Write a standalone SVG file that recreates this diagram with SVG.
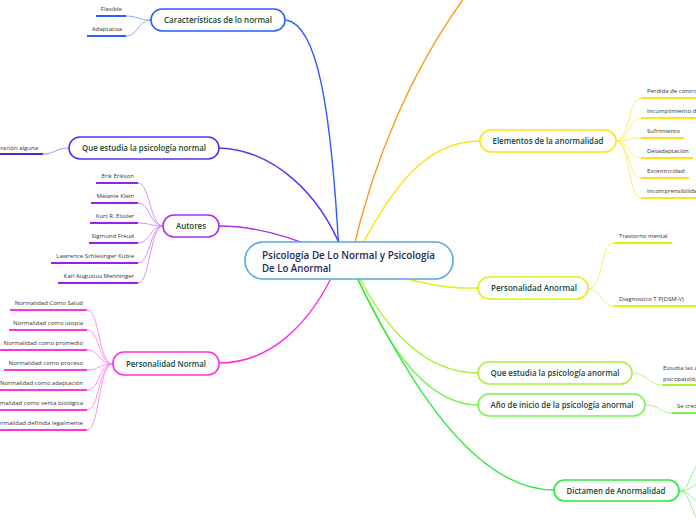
<svg xmlns="http://www.w3.org/2000/svg" width="696" height="520" viewBox="0 0 696 520">
<style>
.bg{fill:#ffffff}
.node{fill:#ffffff;stroke-width:1.6}
.nt{font-family:"Open Sans","Noto Sans",sans-serif;font-size:9.6px;font-weight:600;fill:#17463a;text-anchor:middle}
.ct{font-family:"Open Sans","Noto Sans",sans-serif;font-size:10.4px;font-weight:600;fill:#1b2b5c}
.lt{font-family:"Open Sans","Noto Sans",sans-serif;font-size:6px;fill:#333333}
.ltr{font-family:"Open Sans","Noto Sans",sans-serif;font-size:6px;fill:#333333;text-anchor:end}
.conn{fill:none;stroke-width:1.4}
.sub{fill:none;stroke-width:0.9}
.ul{fill:none;stroke-width:2}
</style>
<rect class="bg" x="0" y="0" width="696" height="520"/>
<g id="connectors">
  <path class="conn" stroke="#2a5cff" d="M 339 252 C 331 110, 318 25, 286 20"/>
  <path class="conn" stroke="#5533ee" d="M 342 250 C 320 195, 275 150, 219 148"/>
  <path class="conn" stroke="#a82ef0" d="M 325 252 C 290 236, 255 226, 219 226"/>
  <path class="conn" stroke="#ff2ee0" d="M 336 268 C 310 325, 270 363, 219 363"/>
  <path class="conn" stroke="#ff9a1a" d="M 352 255 C 372 165, 410 70, 470 -10"/>
  <path class="conn" stroke="#ffe21a" d="M 358 252 C 392 188, 425 141, 480 141"/>
  <path class="conn" stroke="#d8f21a" d="M 380 270 C 420 285, 450 289, 478 288"/>
  <path class="conn" stroke="#a8f03c" d="M 355 270 C 382 322, 420 373, 478 373"/>
  <path class="conn" stroke="#7cf050" d="M 354 270 C 380 330, 420 405, 478 405"/>
  <path class="conn" stroke="#2ee83a" d="M 353 270 C 400 365, 468 490, 554 490"/>
  <path class="sub" stroke="#7fa0ff" d="M 151 20 C 138 20, 138 16, 126 16"/>
  <path class="sub" stroke="#7fa0ff" d="M 151 20 C 138 20, 138 36, 126 36"/>
  <path class="sub" stroke="#9a88f5" d="M 69 148 C 55 148, 55 154, 43 154"/>
  <path class="sub" stroke="#cc88ff" d="M 163 226 C 150 226, 150 183, 138 183"/>
  <path class="sub" stroke="#cc88ff" d="M 163 226 C 150 226, 150 203, 138 203"/>
  <path class="sub" stroke="#cc88ff" d="M 163 226 C 150 226, 150 223, 138 223"/>
  <path class="sub" stroke="#cc88ff" d="M 163 226 C 150 226, 150 243, 138 243"/>
  <path class="sub" stroke="#cc88ff" d="M 163 226 C 150 226, 150 263, 138 263"/>
  <path class="sub" stroke="#cc88ff" d="M 163 226 C 150 226, 150 283, 138 283"/>
  <path class="sub" stroke="#ff88ee" d="M 113 364 C 98 364, 100 310, 87 310"/>
  <path class="sub" stroke="#ff88ee" d="M 113 364 C 98 364, 100 330, 87 330"/>
  <path class="sub" stroke="#ff88ee" d="M 113 364 C 98 364, 100 350, 87 350"/>
  <path class="sub" stroke="#ff88ee" d="M 113 364 C 98 364, 100 370, 87 370"/>
  <path class="sub" stroke="#ff88ee" d="M 113 364 C 98 364, 100 390, 87 390"/>
  <path class="sub" stroke="#ff88ee" d="M 113 364 C 98 364, 100 410, 87 410"/>
  <path class="sub" stroke="#ff88ee" d="M 113 364 C 98 364, 100 430, 87 430"/>
  <path class="sub" stroke="#ffe866" d="M 616 141 C 630 141, 628 98, 641 98"/>
  <path class="sub" stroke="#ffe866" d="M 616 141 C 630 141, 628 118, 641 118"/>
  <path class="sub" stroke="#ffe866" d="M 616 141 C 630 141, 628 138, 641 138"/>
  <path class="sub" stroke="#ffe866" d="M 616 141 C 630 141, 628 158, 641 158"/>
  <path class="sub" stroke="#ffe866" d="M 616 141 C 630 141, 628 178, 641 178"/>
  <path class="sub" stroke="#ffe866" d="M 616 141 C 630 141, 628 198, 641 198"/>
  <path class="sub" stroke="#e4f566" d="M 588 289 C 603 289, 600 243, 614 243"/>
  <path class="sub" stroke="#e4f566" d="M 588 289 C 603 289, 600 306, 614 306"/>
  <path class="sub" stroke="#e4f566" d="M 694 306 C 698 306, 700 300, 702 296"/>
  <path class="sub" stroke="#e4f566" d="M 694 306 C 698 306, 700 312, 702 316"/>
  <path class="sub" stroke="#b8f070" d="M 632 373 C 648 373, 648 385, 662 385"/>
  <path class="sub" stroke="#98f080" d="M 645 405 C 660 405, 660 413, 672 413"/>
  <path class="sub" stroke="#80f080" d="M 679 491 C 690 491, 690 470, 700 462"/>
  <path class="sub" stroke="#80f080" d="M 679 491 C 690 491, 692 485, 700 483"/>
  <path class="sub" stroke="#80f080" d="M 679 491 C 690 491, 692 500, 700 503"/>
  <path class="sub" stroke="#80f080" d="M 679 491 C 690 491, 690 512, 700 522"/>
</g>
<g id="underlines">
  <path class="ul" stroke="#2a5cff" d="M 96 16 H 126 M 87 36 H 126"/>
  <path class="ul" stroke="#4a2ad8" d="M 0 154 H 43"/>
  <path class="ul" stroke="#9b1fe8" d="M 96 183 H 138 M 91 203 H 138 M 90 223 H 138 M 89 243 H 138 M 51 263 H 138 M 58 283 H 138"/>
  <path class="ul" stroke="#ff33dd" d="M 10 310 H 87 M 9 330 H 87 M 0 350 H 87 M 4 370 H 87 M 0 390 H 87 M 0 410 H 87 M 0 430 H 87"/>
  <path class="ul" stroke="#ffe21a" d="M 641 98 H 700 M 641 118 H 700 M 641 138 H 684 M 641 158 H 693 M 641 178 H 689 M 641 198 H 700"/>
  <path class="ul" stroke="#d8f21a" d="M 614 243 H 672 M 614 306 H 696"/>
  <path class="ul" stroke="#a8f03c" d="M 662 385 H 700"/>
  <path class="ul" stroke="#7cf050" d="M 672 413 H 700"/>
</g>
<g id="central">
  <rect class="node" x="245" y="242" width="208" height="37" rx="18" stroke="#5aa6dc"/>
  <text class="ct" x="262" y="258.5" textLength="173" lengthAdjust="spacingAndGlyphs">Psicología De Lo Normal  y Psicología</text>
  <text class="ct" x="262" y="271.5" textLength="69" lengthAdjust="spacingAndGlyphs">De Lo Anormal</text>
</g>
<g id="caracteristicas">
  <rect class="node" x="151" y="9" width="134" height="22" rx="11" stroke="#2a5cff"/>
  <text class="nt" x="218" y="23" textLength="108" lengthAdjust="spacingAndGlyphs">Características de lo  normal</text>
  <text class="ltr" x="122" y="11">Flexible</text>
  <text class="ltr" x="122" y="31">Adaptativa</text>
</g>
<g id="que-estudia-normal">
  <rect class="node" x="69" y="137" width="150" height="22" rx="11" stroke="#5533ee"/>
  <text class="nt" x="144" y="151" textLength="124" lengthAdjust="spacingAndGlyphs">Que estudia la psicología normal</text>
  <text class="ltr" x="38" y="150">Sin alteración alguna</text>
</g>
<g id="autores">
  <rect class="node" x="163" y="215" width="56" height="22" rx="11" stroke="#a82ef0"/>
  <text class="nt" x="191" y="229" textLength="30" lengthAdjust="spacingAndGlyphs">Autores</text>
  <text class="ltr" x="134" y="178">Erik Erikson</text>
  <text class="ltr" x="134" y="198">Melanie Klein</text>
  <text class="ltr" x="134" y="218">Kurt R. Eissler</text>
  <text class="ltr" x="134" y="238">Sigmund Freud</text>
  <text class="ltr" x="134" y="258">Lawrence Schlesinger Kubie</text>
  <text class="ltr" x="134" y="278">Karl Augustus Menninger</text>
</g>
<g id="personalidad-normal">
  <rect class="node" x="113" y="352" width="106" height="23" rx="11" stroke="#ff2ee0"/>
  <text class="nt" x="166" y="367" textLength="80" lengthAdjust="spacingAndGlyphs">Personalidad Normal</text>
  <text class="ltr" x="83" y="305">Normalidad Como Salud</text>
  <text class="ltr" x="83" y="325">Normalidad como utopia</text>
  <text class="ltr" x="83" y="345">Normalidad como promedio</text>
  <text class="ltr" x="83" y="365">Normalidad como proceso</text>
  <text class="ltr" x="83" y="385">Normalidad como adaptación</text>
  <text class="ltr" x="83" y="405">Normalidad como venta biológica</text>
  <text class="ltr" x="83" y="425">Normalidad definida legalmente</text>
</g>
<g id="elementos-anormalidad">
  <rect class="node" x="480" y="130" width="136" height="22" rx="11" stroke="#ffe21a"/>
  <text class="nt" x="548" y="144" textLength="111" lengthAdjust="spacingAndGlyphs">Elementos de la anormalidad</text>
  <text class="lt" x="647" y="93">Perdida de control</text>
  <text class="lt" x="647" y="113">Incumplimiento de normas</text>
  <text class="lt" x="647" y="133">Sufrimiento</text>
  <text class="lt" x="647" y="153">Desadaptación</text>
  <text class="lt" x="647" y="173">Excentricidad</text>
  <text class="lt" x="647" y="193">Incomprensibilidad</text>
</g>
<g id="personalidad-anormal">
  <rect class="node" x="478" y="277" width="110" height="22" rx="11" stroke="#d8f21a"/>
  <text class="nt" x="534" y="291" textLength="86" lengthAdjust="spacingAndGlyphs">Personalidad Anormal</text>
  <text class="lt" x="619" y="238">Trastorno mental</text>
  <text class="lt" x="619" y="301">Diagnostico T P(DSM-V)</text>
</g>
<g id="que-estudia-anormal">
  <rect class="node" x="478" y="362" width="154" height="22" rx="11" stroke="#a8f03c"/>
  <text class="nt" x="555" y="376" textLength="129" lengthAdjust="spacingAndGlyphs">Que estudia la psicología anormal</text>
  <text class="lt" x="663" y="370">Estudia las alteraciones</text>
  <text class="lt" x="663" y="381">psicopatológicas</text>
</g>
<g id="anio-inicio">
  <rect class="node" x="478" y="394" width="167" height="22" rx="11" stroke="#7cf050"/>
  <text class="nt" x="562" y="408" textLength="143" lengthAdjust="spacingAndGlyphs">Año de inicio de la psicología anormal</text>
  <text class="lt" x="677" y="408">Se creó</text>
</g>
<g id="dictamen">
  <rect class="node" x="554" y="480" width="125" height="21" rx="10.5" stroke="#2ee83a"/>
  <text class="nt" x="616" y="494" textLength="99" lengthAdjust="spacingAndGlyphs">Dictamen de Anormalidad</text>
</g>
</svg>
